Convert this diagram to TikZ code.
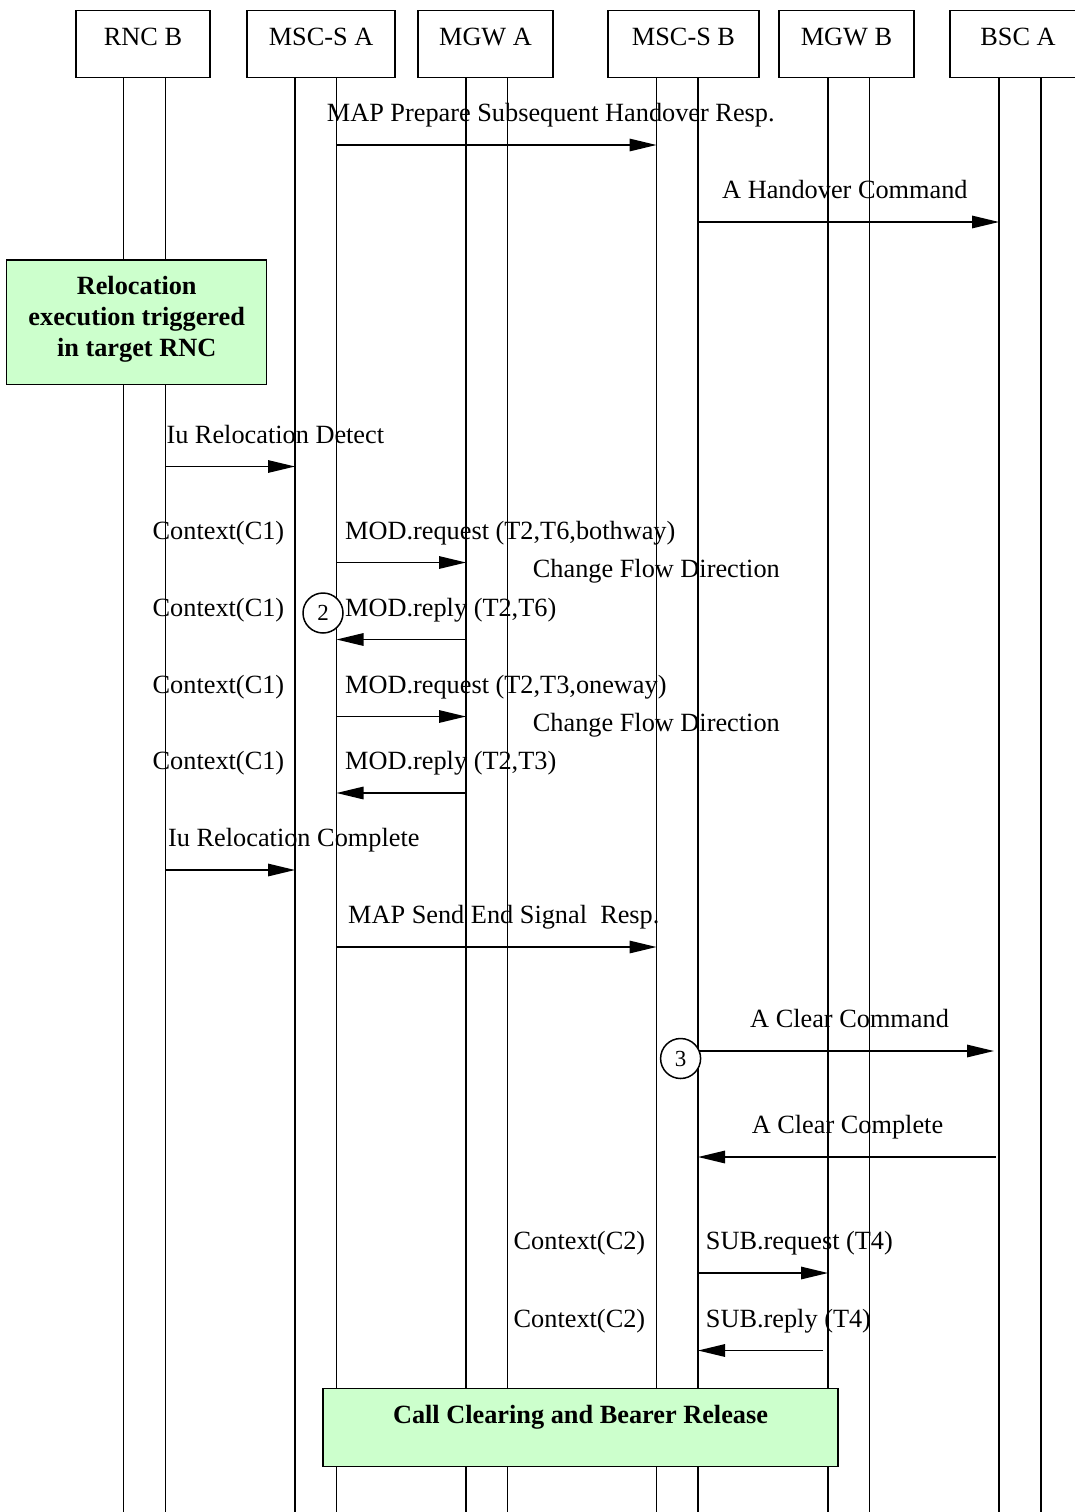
\documentclass[tikz,border=0pt]{standalone}
\usepackage{fontspec}
\setmainfont{Liberation Serif}
\usetikzlibrary{arrows.meta}
\definecolor{notegreen}{HTML}{CCFFCC}
\begin{document}
\begin{tikzpicture}[x=1pt,y=-1pt,
  every node/.style={font=\fontsize{26.3}{31}\selectfont},
  entity/.style={draw, line width=1.5pt, minimum height=66.6pt, inner sep=0pt, text height=12pt, text depth=8pt},
  life/.style={line width=1.5pt},
  msg/.style={line width=1.5pt, -{Triangle[length=27pt,width=12.5pt]}},
  lbl/.style={anchor=base west, inner sep=0pt},
  notebox/.style={draw, line width=1.5pt, fill=notegreen, inner sep=0pt},
  notetext/.style={font=\bfseries\fontsize{26.3}{31}\selectfont, align=center, inner sep=0pt},
  marker/.style={draw, circle, line width=1.5pt, fill=white, minimum size=40pt, inner sep=0pt, font=\fontsize{23}{26}\selectfont}
]
\fill[white] (0,0) rectangle (1075,1512);
\useasboundingbox (0,0) rectangle (1075,1512);

% lifeline tops
\coordinate (rncL) at (123.5,77.3);
\coordinate (rncR) at (165.5,77.3);
\coordinate (mscAL) at (295,77.3);
\coordinate (mscAR) at (336.5,77.3);
\coordinate (mgwAL) at (466,77.3);
\coordinate (mgwAR) at (507.5,77.3);
\coordinate (mscBL) at (656.5,77.3);
\coordinate (mscBR) at (698,77.3);
\coordinate (mgwBL) at (828,77.3);
\coordinate (mgwBR) at (869.5,77.3);
\coordinate (bscL) at (999,77.3);
\coordinate (bscR) at (1041,77.3);
\coordinate (bottom) at (0,1512);
\foreach \c in {rncL,rncR,mscAL,mscAR,mgwAL,mgwAR,mscBL,mscBR,mgwBL,mgwBR,bscL,bscR}
  \draw[life] (\c) -- (\c |- bottom);

% entity boxes
\node[entity, minimum width=134pt] (rnc) at (143,44) {RNC B};
\node[entity, minimum width=148pt] (mscA) at (321,44) {MSC-S A};
\node[entity, minimum width=135pt] (mgwA) at (485.5,44) {MGW A};
\node[entity, minimum width=151pt] (mscB) at (683.5,44) {MSC-S B};
\node[entity, minimum width=135pt] (mgwB) at (846.5,44) {MGW B};
\node[entity, minimum width=136pt] (bsc) at (1018,44) {BSC A};

% message rows
\coordinate (r1) at (0,145);
\coordinate (r2) at (0,222);
\coordinate (r3) at (0,466.5);
\coordinate (r4) at (0,562.5);
\coordinate (r5) at (0,639.5);
\coordinate (r6) at (0,716.5);
\coordinate (r7) at (0,793);
\coordinate (r8) at (0,870);
\coordinate (r9) at (0,947);
\coordinate (r10) at (0,1051);
\coordinate (r11) at (0,1157);
\coordinate (r12) at (0,1273);
\coordinate (r13) at (0,1350.5);

\draw[msg] (mscAR |- r1) -- (mscBL |- r1);
\draw[msg] (mscBR |- r2) -- (bscL |- r2);
\draw[msg] (rncR |- r3) -- (mscAL |- r3);
\draw[msg] (mscAR |- r4) -- (mgwAL |- r4);
\draw[msg] (mgwAL |- r5) -- (mscAR |- r5);
\draw[msg] (mscAR |- r6) -- (mgwAL |- r6);
\draw[msg] (mgwAL |- r7) -- (mscAR |- r7);
\draw[msg] (rncR |- r8) -- (mscAL |- r8);
\draw[msg] (mscAR |- r9) -- (mscBL |- r9);
\draw[msg, shorten >=5pt] (mscBR |- r10) -- (bscL |- r10);
\draw[msg, shorten <=3pt] (bscL |- r11) -- (mscBR |- r11);
\draw[msg] (mscBR |- r12) -- (mgwBL |- r12);
\draw[msg, shorten <=5pt] (mgwBL |- r13) -- (mscBR |- r13);

% notes
\node[notebox, minimum width=260pt, minimum height=124.5pt] (reloc) at (136.7,322.3) {};
\node[notetext] (relocT) at (136.7,319) {Relocation\\execution triggered\\in target RNC};
\node[notebox, minimum width=515pt, minimum height=78pt] (clear) at (580.5,1427.5) {};
\node[notetext, anchor=base] (clearT) at (580.5,1423) {Call Clearing and Bearer Release};

% markers
\node[marker] (c2) at (323,613) {2};
\node[marker] (c3) at (680.6,1058.5) {3};

% labels
\node[lbl] (l1) at (326.7,121.5) {MAP Prepare Subsequent Handover Resp.};
\node[lbl] (l2) at (722,198.5) {A Handover Command};
\node[lbl] (l3) at (166.3,443) {Iu Relocation Detect};
\node[lbl] (x1) at (152.5,539.5) {Context(C1)};
\node[lbl] (l4) at (345,539.5) {MOD.request (T2,T6,bothway)};
\node[lbl] (f1) at (532.7,577) {Change Flow Direction};
\node[lbl] (x2) at (152.5,616) {Context(C1)};
\node[lbl] (l5) at (345,616) {MOD.reply (T2,T6)};
\node[lbl] (x3) at (152.5,693) {Context(C1)};
\node[lbl] (l6) at (345,693) {MOD.request (T2,T3,oneway)};
\node[lbl] (f2) at (532.7,731.5) {Change Flow Direction};
\node[lbl] (x4) at (152.5,769.5) {Context(C1)};
\node[lbl] (l7) at (345,769.5) {MOD.reply (T2,T3)};
\node[lbl] (l8) at (168,846.5) {Iu Relocation Complete};
\node[lbl] (l9) at (348,923.5) {MAP Send End Signal\ \ Resp.};
\node[lbl] (l10) at (750,1027.5) {A Clear Command};
\node[lbl] (l11) at (751.6,1133.5) {A Clear Complete};
\node[lbl] (x5) at (513.5,1249.5) {Context(C2)};
\node[lbl] (l12) at (705.7,1249.5) {SUB.request (T4)};
\node[lbl] (x6) at (513.5,1327) {Context(C2)};
\node[lbl] (l13) at (705.7,1327) {SUB.reply (T4)};
\end{tikzpicture}
\end{document}
